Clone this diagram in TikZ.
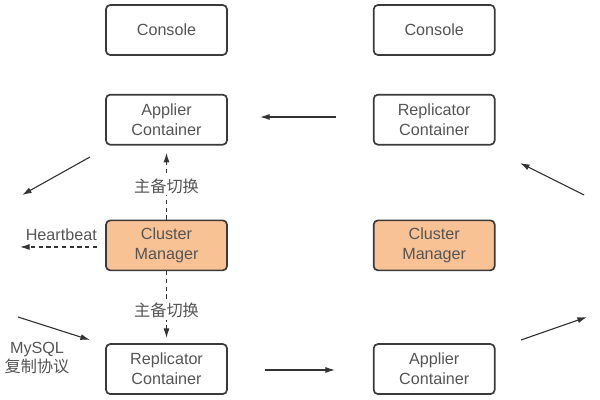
\documentclass[tikz,border=0pt]{standalone}
\usepackage{fontspec}
\setmainfont{Liberation Sans}
\newfontfamily\cjk{Noto Sans CJK SC}
\usetikzlibrary{arrows.meta,positioning}
\definecolor{boxline}{RGB}{58,58,58}
\definecolor{boxtext}{RGB}{85,85,85}
\definecolor{mgrfill}{RGB}{248,194,148}
\definecolor{arrowgray}{RGB}{51,51,51}

\begin{document}
\begin{tikzpicture}[
      node distance=0.95cm and 3.625cm,
      box/.style={draw=boxline,line width=1.2pt,rounded corners=3pt,fill=white,align=center,text=boxtext,minimum width=3.025cm,minimum height=1.25cm,inner sep=1pt},
      mgr/.style={box,fill=mgrfill},
      arrow/.style={-{Latex[length=2.4mm,width=1.5mm]},line width=0.8pt,draw=arrowgray},
      dasharrow/.style={arrow,dashed,dash pattern=on 3pt off 2.5pt},
      lbl/.style={text=boxtext,align=center,font=\fontsize{11.5}{14}\selectfont},
      every node/.style={font=\fontsize{11.5}{14.2}\selectfont}
    ]
      \useasboundingbox (0,0) rectangle (15,-10);

      % left side
      \node[box] (con1) at (4.1625,-0.75) {Console};
      \node[box,below=of con1] (app1) {Applier\\Container};
      \node[mgr,below=1.85cm of app1] (mgr1) {Cluster\\Manager};
      \node[box,below=1.8cm of mgr1] (rep1) {Replicator\\Container};

      % right side
      \node[box,right=of con1] (con2) {Console};
      \node[box,right=of app1] (rep2) {Replicator\\Container};
      \node[mgr,right=of mgr1] (app2mgr) {Cluster\\Manager};
      \node[box,right=of rep1] (app2) {Applier\\Container};

      % free ends
      \coordinate (t1) at (8.4,-2.925);
      \coordinate (t2) at (6.5,-2.925);
      \coordinate (b1) at (6.625,-9.25);
      \coordinate (b2) at (8.375,-9.25);
      \coordinate (ul1) at (2.25,-3.925);
      \coordinate (ul2) at (0.55,-4.875);
      \coordinate (ll1) at (0.45,-7.925);
      \coordinate (ll2) at (2.25,-8.5);
      \coordinate (ur1) at (14.6,-4.875);
      \coordinate (ur2) at (13.0,-4.075);
      \coordinate (lr1) at (13.025,-8.5);
      \coordinate (lr2) at (14.675,-7.925);
      \coordinate (hb1) at (2.425,-6.175);
      \coordinate (hb2) at (0.5,-6.175);

      \draw[arrow] (t1) -- (t2);
      \draw[arrow] (b1) -- (b2);
      \draw[arrow] (ul1) -- (ul2);
      \draw[arrow] (ll1) -- (ll2);
      \draw[arrow] (ur1) -- (ur2);
      \draw[arrow] (lr1) -- (lr2);

      \draw[dasharrow,shorten >=0.18cm] (mgr1.north) -- node[lbl,fill=white,pos=0.45,inner sep=1pt]{\cjk 主备切换} (app1.south);
      \draw[dasharrow,shorten >=0.13cm] (mgr1.south) -- node[lbl,fill=white,pos=0.55,inner sep=1pt]{\cjk 主备切换} (rep1.north);
      \draw[dasharrow] (hb1) -- node[lbl,above=1pt,xshift=2pt]{Heartbeat} (hb2);

      \node[lbl] (mysql) at (0.925,-8.95) {MySQL\\{\cjk 复制协议}};
    \end{tikzpicture}
\end{document}
